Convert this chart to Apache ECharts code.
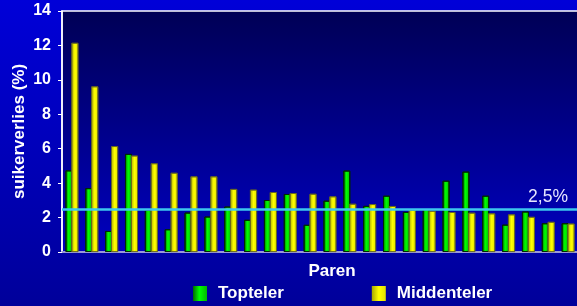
<!DOCTYPE html>
<html>
<head>
<meta charset="utf-8">
<script src="https://cdn.jsdelivr.net/npm/echarts@6/dist/echarts.min.js"></script>
<style>
  html, body { margin: 0; padding: 0; }
  #chart { width: 577px; height: 306px; }
</style>
</head>
<body>
<div id="chart"></div>
<script>
// paren 1..26
var paren = ['1','2','3','4','5','6','7','8','9','10','11','12','13','14','15','16','17','18','19','20','21','22','23','24','25','26'];
var topteler = [4.74, 3.71, 1.22, 5.7, 2.45, 1.32, 2.29, 2.06, 2.64, 1.87, 3.02, 3.37, 1.58, 2.98, 4.73, 2.68, 3.27, 2.33, 2.49, 4.14, 4.67, 3.27, 1.59, 2.35, 1.67, 1.67];
var middenteler = [12.15, 9.62, 6.15, 5.6, 5.15, 4.6, 4.39, 4.39, 3.66, 3.62, 3.48, 3.42, 3.38, 3.23, 2.8, 2.78, 2.67, 2.45, 2.39, 2.32, 2.28, 2.24, 2.18, 2.04, 1.75, 1.65];
var grens = 2.5;

var myChart = echarts.init(document.getElementById('chart'));

var groen = new echarts.graphic.LinearGradient(0, 0, 1, 0, [
    { offset: 0, color: '#006a00' },
    { offset: 0.45, color: '#00ff00' },
    { offset: 1, color: '#00b800' }
]);
var geel = new echarts.graphic.LinearGradient(0, 0, 1, 0, [
    { offset: 0, color: '#a8a800' },
    { offset: 0.5, color: '#ffff00' },
    { offset: 1, color: '#e0e000' }
]);

var option = {
    backgroundColor: new echarts.graphic.LinearGradient(0, 0, 0, 1, [
        { offset: 0, color: '#0000d8' },
        { offset: 1, color: '#00009a' }
    ]),
    textStyle: { fontFamily: 'Liberation Sans, Arial, sans-serif' },
    grid: {
        left: 62,
        top: 11,
        right: -1,
        bottom: 54,
        outerBoundsMode: 'none',
        show: true,
        borderColor: '#ffffff',
        borderWidth: 1.5,
        backgroundColor: new echarts.graphic.LinearGradient(0, 0, 0, 1, [
            { offset: 0, color: '#000055' },
            { offset: 1, color: '#0000c0' }
        ])
    },
    legend: {
        left: 188,
        top: 280,
        itemWidth: 14,
        itemHeight: 15,
        itemGap: 88,
        icon: 'rect',
        itemStyle: { borderWidth: 0 },
        textStyle: { color: '#ffffff', fontSize: 17, fontWeight: 'bold', padding: [0, 0, 0, 6] },
        data: ['Topteler', 'Middenteler']
    },
    xAxis: {
        type: 'category',
        data: paren,
        name: 'Paren',
        nameLocation: 'middle',
        nameGap: 11,
        nameTextStyle: { color: '#ffffff', fontSize: 17, fontWeight: 'bold', padding: [0, 0, 0, 24] },
        axisLine: { lineStyle: { color: '#9a9ad8', width: 2 } },
        axisTick: { show: false },
        axisLabel: { show: false }
    },
    yAxis: {
        type: 'value',
        min: 0,
        max: 14,
        interval: 2,
        name: 'suikerverlies (%)',
        nameLocation: 'middle',
        nameGap: 34,
        nameMoveOverlap: false,
        nameTextStyle: { color: '#ffffff', fontSize: 17, fontWeight: 'bold' },
        axisLine: { show: true, lineStyle: { color: '#ffffff', width: 1.5 } },
        axisTick: { show: true, length: 4, lineStyle: { color: '#ffffff' } },
        axisLabel: { color: '#ffffff', fontSize: 16, fontWeight: 'bold', margin: 11 },
        splitLine: { show: false }
    },
    series: [
        {
            name: 'Topteler',
            type: 'bar',
            data: topteler,
            barWidth: 7,
            barGap: '-15%',
            itemStyle: { color: groen, borderColor: '#002a00', borderWidth: 1 }
        },
        {
            name: 'Middenteler',
            type: 'bar',
            data: middenteler,
            barWidth: 7,
            itemStyle: { color: geel, borderColor: '#6a6a20', borderWidth: 0.8 },
            markLine: {
                silent: true,
                symbol: 'none',
                lineStyle: { color: '#3cc8ee', width: 2.5, type: 'solid' },
                label: {
                    position: 'insideEndTop',
                    formatter: '2,5%',
                    color: '#e6e6ff',
                    fontSize: 17.5,
                    distance: [10, 3]
                },
                data: [{ yAxis: grens }]
            }
        }
    ]
};

option && myChart.setOption(option);
</script>
</body>
</html>
